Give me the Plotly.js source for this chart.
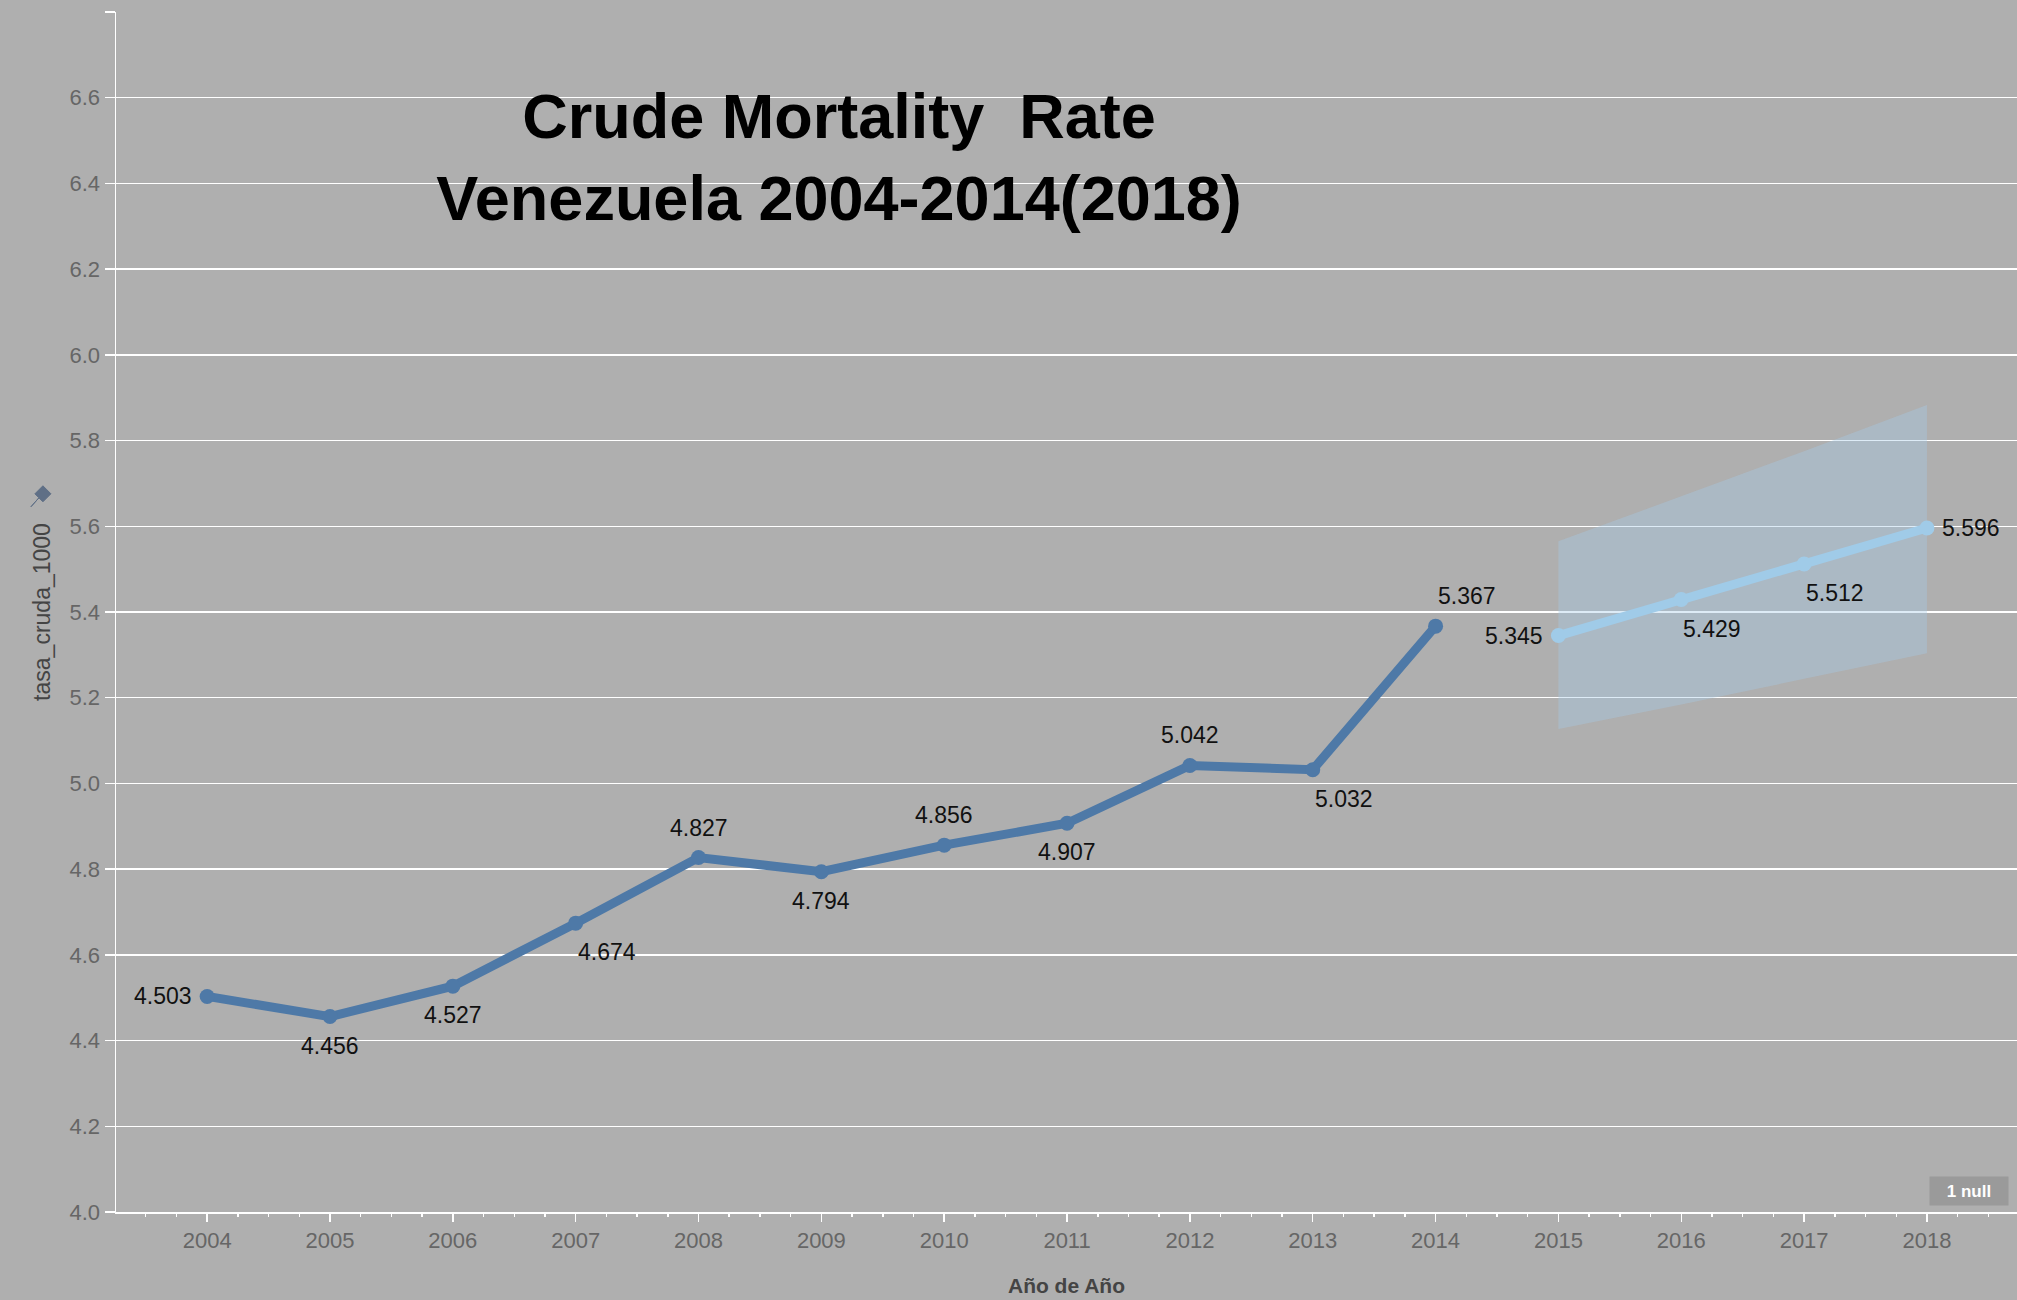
<!DOCTYPE html>
<html>
<head>
<meta charset="utf-8">
<script src="https://cdn.plot.ly/plotly-3.0.1.min.js"></script>
<style>
  html, body { margin: 0; padding: 0; background: #afafaf; }
  #chart { width: 2017px; height: 1300px; }
</style>
</head>
<body>
<div id="chart"></div>
<script>
// ---- data ----
const years = [2004, 2005, 2006, 2007, 2008, 2009, 2010, 2011, 2012, 2013, 2014];
const rate = [4.503, 4.456, 4.527, 4.674, 4.827, 4.794, 4.856, 4.907, 5.042, 5.032, 5.367];
const forecastYears = [2015, 2016, 2017, 2018];
const forecastRate = [5.345, 5.429, 5.512, 5.596];
const forecastUpper = [5.565, 5.670, 5.775, 5.883];
const forecastLower = [5.127, 5.184, 5.244, 5.304];
const xTickYears = [2004, 2005, 2006, 2007, 2008, 2009, 2010, 2011, 2012, 2013, 2014, 2015, 2016, 2017, 2018];
const yTickVals = [4.0, 4.2, 4.4, 4.6, 4.8, 5.0, 5.2, 5.4, 5.6, 5.8, 6.0, 6.2, 6.4, 6.6, 6.8];
const yTickText = ['4.0', '4.2', '4.4', '4.6', '4.8', '5.0', '5.2', '5.4', '5.6', '5.8', '6.0', '6.2', '6.4', '6.6', ''];
const titleLines = ['Crude Mortality&nbsp; Rate', 'Venezuela 2004-2014(2018)'];
const xTitle = 'Año de Año';
const yTitle = 'tasa_cruda_1000';
const nullBadge = '1 null';

// label placement (style): L = left, B = below centred, T = above centred, BR = below right, TR = above right, R = right
const histLabelPos = ['L', 'B', 'B', 'BR', 'T', 'B', 'T', 'B', 'T', 'BR', 'TR'];
const fcLabelPos = ['L', 'BR', 'BR', 'R'];

const BG = '#afafaf';
const FONT = '"Liberation Sans", Arial, Helvetica, sans-serif';
const labelFont = { family: FONT, size: 23, color: '#111111' };

const PLACE = {
  L:  { xanchor: 'right',  yanchor: 'middle', xshift: -13, yshift: 0 },
  R:  { xanchor: 'left',   yanchor: 'middle', xshift: 13,  yshift: 0 },
  B:  { xanchor: 'center', yanchor: 'middle', xshift: 0,   yshift: -29 },
  T:  { xanchor: 'center', yanchor: 'middle', xshift: 0,   yshift: 30 },
  BR: { xanchor: 'left',   yanchor: 'middle', xshift: 0,   yshift: -29 },
  TR: { xanchor: 'left',   yanchor: 'middle', xshift: 0,   yshift: 30 }
};

function labelAnnotations(xs, ys, pos) {
  return xs.map((x, i) => Object.assign({
    x: x, y: ys[i], xref: 'x', yref: 'y',
    text: ys[i].toFixed(3), showarrow: false, font: labelFont
  }, PLACE[pos[i]]));
}

const traces = [
  {
    x: forecastYears, y: forecastLower, type: 'scatter', mode: 'lines',
    line: { width: 0, color: 'rgba(0,0,0,0)' }, hoverinfo: 'skip', showlegend: false
  },
  {
    x: forecastYears, y: forecastUpper, type: 'scatter', mode: 'lines',
    fill: 'tonexty', fillcolor: 'rgba(166,203,232,0.38)',
    line: { width: 0, color: 'rgba(0,0,0,0)' }, hoverinfo: 'skip', showlegend: false
  },
  {
    x: years, y: rate, type: 'scatter', mode: 'lines+markers',
    line: { color: '#4e79a7', width: 9 },
    marker: { color: '#4e79a7', size: 15 },
    showlegend: false, cliponaxis: false
  },
  {
    x: forecastYears, y: forecastRate, type: 'scatter', mode: 'lines+markers',
    line: { color: '#a0cbe8', width: 9 },
    marker: { color: '#a0cbe8', size: 15 },
    showlegend: false, cliponaxis: false
  }
];

const layout = {
  width: 2017, height: 1300,
  paper_bgcolor: BG, plot_bgcolor: BG,
  margin: { l: 116, r: 0, t: 12, b: 88 },
  showlegend: false,
  title: {
    text: titleLines.join('<br>'),
    font: { family: FONT, size: 63, color: '#000000', weight: 'bold' },
    x: 0.416, xanchor: 'center', xref: 'container',
    y: 0.894, yanchor: 'middle', yref: 'container'
  },
  xaxis: {
    range: [2003.258, 2018.733],
    tickvals: xTickYears, ticktext: xTickYears.map(String),
    showgrid: false, zeroline: false,
    showline: true, linecolor: '#ffffff', linewidth: 2,
    ticks: 'outside', ticklen: 8, tickwidth: 1.5, tickcolor: '#ffffff',
    minor: { dtick: 0.25, tick0: 2004, ticks: 'outside', ticklen: 3, tickwidth: 1.5, tickcolor: '#ffffff', showgrid: false },
    tickfont: { family: FONT, size: 22, color: '#666666' },
    title: { text: xTitle, font: { family: FONT, size: 21, color: '#444444', weight: 'bold' }, standoff: 26 },
    fixedrange: true
  },
  yaxis: {
    range: [4.0, 6.8],
    tickvals: yTickVals, ticktext: yTickText,
    showgrid: true, gridcolor: '#ffffff', gridwidth: 1.5,
    zeroline: false,
    showline: true, linecolor: '#ffffff', linewidth: 1.5,
    ticks: 'outside', ticklen: 10, tickwidth: 1.5, tickcolor: '#ffffff',
    tickfont: { family: FONT, size: 22, color: '#666666' },
    title: { text: yTitle, font: { family: FONT, size: 23, color: '#444444' }, standoff: 12 },
    fixedrange: true
  },
  annotations: labelAnnotations(years, rate, histLabelPos)
    .concat(labelAnnotations(forecastYears, forecastRate, fcLabelPos))
    .concat([
      {
        xref: 'paper', yref: 'paper', x: 0.975, y: 0.0175,
        xanchor: 'center', yanchor: 'middle',
        text: '<b>' + nullBadge + '</b>', showarrow: false,
        font: { family: FONT, size: 17, color: '#ffffff' },
        bgcolor: '#9a9a9a', borderpad: 3, width: 72, height: 22
      }
    ]),
  shapes: [
    {
      type: 'path', xref: 'paper', yref: 'paper',
      xsizemode: 'pixel', ysizemode: 'pixel',
      xanchor: -0.0395, yanchor: 0.596,
      path: 'M -10,-10 L -2,-1 L -6,3 L 2,11 L 6,7 L 10,3 L 2,-5 L -2,-1 Z',
      fillcolor: '#5f6f86', line: { color: '#5f6f86', width: 1 }
    }
  ]
};

Plotly.newPlot('chart', traces, layout, { displayModeBar: false, staticPlot: true });
</script>
</body>
</html>
